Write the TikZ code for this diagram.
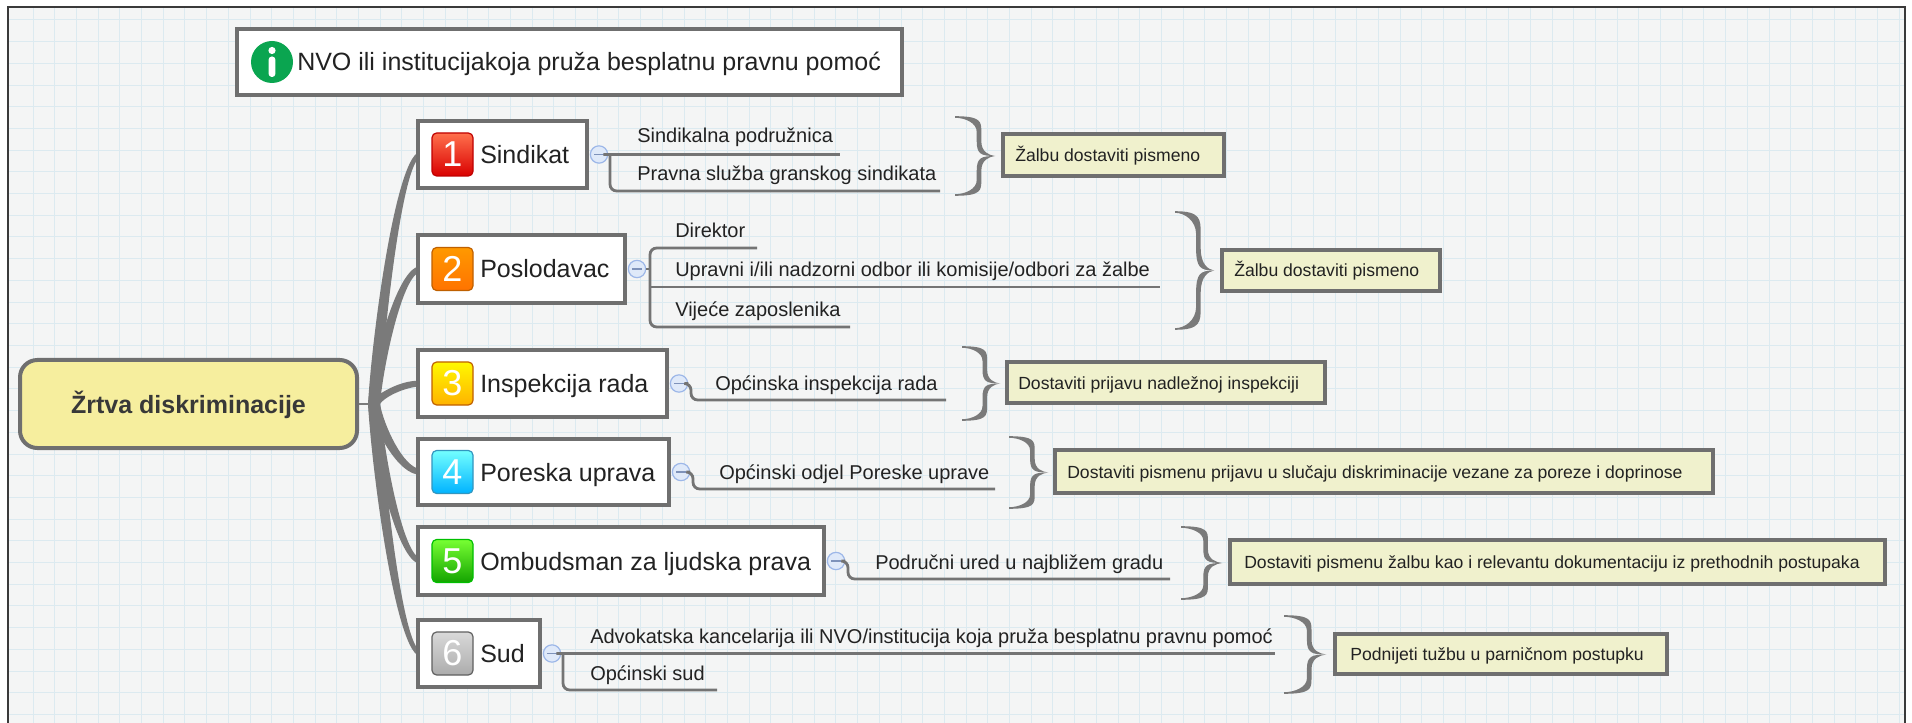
\documentclass[tikz,border=0pt]{standalone}
\usepackage{fontspec}
\setmainfont{Liberation Sans}
\definecolor{bgcol}{HTML}{F4F5F5}
\definecolor{gridcol}{HTML}{DCEAF0}
\definecolor{framecol}{HTML}{3A3A3A}
\definecolor{boxline}{HTML}{6F6F6F}
\definecolor{conncol}{HTML}{747474}
\definecolor{trunkcol}{HTML}{7A7A7A}
\definecolor{bracecol}{HTML}{7A7A7A}
\definecolor{notefill}{HTML}{F0F1CD}
\definecolor{rootfill}{HTML}{F6EE9E}
\definecolor{txtcol}{HTML}{222222}
\definecolor{circfill}{HTML}{DFE9F9}
\definecolor{circline}{HTML}{9DB7E8}
\definecolor{infogreen}{HTML}{0AA550}
\newcommand\fBig{\fontsize{18.75pt}{22pt}\selectfont}
\newcommand\fSub{\fontsize{15pt}{18pt}\selectfont}
\newcommand\fNote{\fontsize{13.2pt}{16pt}\selectfont}
\newcommand\fNum{\fontsize{27pt}{30pt}\selectfont}
\newcommand\cbrace[4]{%
 \pgfmathsetmacro\bL{#1}\pgfmathsetmacro\bR{#2}%
 \pgfmathsetmacro\bM{(#3+#4)/2}\pgfmathsetmacro\bH{(#4-#3)/2}%
 \pgfmathsetmacro\bW{#2-#1}\pgfmathsetmacro\bC{#1+0.6*(#2-#1)}%
 \foreach \sg in {1,-1}{%
  \fill[bracecol] (\bL,{\bM-(\sg)*(\bH+0.8)}) .. controls ({\bC+2.3},{\bM-(\sg)*(\bH+0.8)}) and ({\bC+2.3},{\bM-(\sg)*0.88*\bH}) .. ({\bC+2.3},{\bM-(\sg)*0.62*\bH}) -- ({\bC+2.3},{\bM-(\sg)*0.38*\bH}) .. controls ({\bC+2.3},{\bM-(\sg)*0.1*\bH}) and ({\bC+0.25*\bW},{\bM-(\sg)*0.02*\bH}) .. (\bR,\bM) .. controls ({\bC+0.05*\bW},\bM) and ({\bC-2.3},{\bM-(\sg)*0.05*\bH}) .. ({\bC-2.3},{\bM-(\sg)*0.38*\bH}) -- ({\bC-2.3},{\bM-(\sg)*0.62*\bH}) .. controls ({\bC-2.3},{\bM-(\sg)*0.85*\bH}) and ({\bL+0.25*\bW},{\bM-(\sg)*(\bH-0.8)}) .. (\bL,{\bM-(\sg)*(\bH-0.8)}) -- cycle;
 }}
% tapered branch from the junction (374,404) to a box at height #1
\newcommand\mbranch[1]{%
 \pgfmathsetmacro\yc{#1}\pgfmathsetmacro\u{ifthenelse(#1>404,1,-1)}%
 \pgfmathsetmacro\ya{404+0.3*(#1-404)}%
 \fill[trunkcol] (368,404) .. controls (372.5,\ya) and (397,{\yc+(\u)*3.8}) .. (421,{\yc+(\u)*2.8}) -- (421,{\yc-(\u)*2.8}) .. controls (403,{\yc-(\u)*3.8}) and (383.5,\ya) .. (380,404) -- cycle;}
\begin{document}
\begin{tikzpicture}[x=0.75pt,y=-0.75pt,
 sz/.style 2 args={minimum width=#1*0.75pt, minimum height=#2*0.75pt},
 wbox/.style={draw=boxline, fill=white, line width=3pt, inner sep=0pt},
 rootbox/.style={draw=boxline, fill=rootfill, line width=3pt, rounded corners=13pt, inner sep=0pt},
 nbox/.style={draw=boxline, fill=notefill, line width=2.6pt, inner sep=0pt},
 badge/.style={draw=#1!75!black, line width=0.9pt, rounded corners=3.5pt, inner sep=0pt, minimum width=30.75pt, minimum height=32.25pt, text=white, font=\fNum},
 lbl/.style={anchor=base west, inner sep=0pt, text=txtcol, font=\fBig},
 sub/.style={anchor=base west, inner sep=0pt, text=txtcol, font=\fSub},
 ntext/.style={anchor=base west, inner sep=0pt, text=txtcol, font=\fNote},
 conn/.style={draw=conncol, line width=2.1pt, rounded corners=5pt},
 knob/.style={circle, draw=circline, fill=circfill, line width=0.9pt, minimum size=13pt, inner sep=0pt},
]
\useasboundingbox (0,0) rectangle (1912,723);
\fill[white] (0,0) rectangle (1912,723);
\fill[bgcol] (8,7) rectangle (1905,723);
\begin{scope}
\clip (8,7) rectangle (1905,723);
\foreach \gx in {0,...,87} {\draw[gridcol, line width=0.75pt] ({33+21.7*\gx},7) -- ({33+21.7*\gx},723);}
\foreach \gy in {0,...,33} {\draw[gridcol, line width=0.75pt] (8,{20+21.7*\gy}) -- (1905,{20+21.7*\gy});}
\end{scope}
\draw[framecol, line width=1.6pt] (8,723) -- (8,7) -- (1905,7) -- (1905,723);

% trunk
\coordinate (junc) at (370,404);
\mbranch{154.5}\mbranch{269}\mbranch{383.5}\mbranch{472}\mbranch{561}\mbranch{653.5}

% root
\node[rootbox, sz={337}{88}] (root) at (188.5,404) {};
\node[anchor=base, inner sep=0pt, text=black!78, font=\fBig\bfseries] (roottxt) at (188.5,413) {Žrtva diskriminacije};
\draw[trunkcol, line width=2pt] (root.east) -- (junc);

% top info box
\node[wbox, sz={665}{66}] (top) at (569.5,62) {};
\node[circle, fill=infogreen, minimum size=31.5pt, inner sep=0pt] (icon) at (272,62) {};
\fill[white] (272,50.5) circle (3.6);
\fill[white, rounded corners=2.4pt] (268.6,56.5) rectangle (275.4,77);
\node[lbl] (toptxt) at (297,71) {NVO ili institucijakoja pruža besplatnu pravnu pomoć};

% branch boxes
\node[wbox, sz={169}{67}] (b1) at (502.5,154.5) {};
\node[wbox, sz={207}{68}] (b2) at (521.5,269) {};
\node[wbox, sz={249}{67}] (b3) at (542.5,383.5) {};
\node[wbox, sz={251}{66}] (b4) at (543.5,472) {};
\node[wbox, sz={406}{68}] (b5) at (621,561) {};
\node[wbox, sz={122}{67}] (b6) at (479,653.5) {};

\node[badge=red, top color=red!60!orange!70!white, bottom color=red!85!black] (g1) at (452.5,154.5) {1};
\node[badge=orange, top color=orange!80!yellow, bottom color=orange!90!red] (g2) at (452.5,269) {2};
\node[badge=orange, top color=yellow!95!orange, bottom color=orange!60!yellow] (g3) at (452.5,383.5) {3};
\node[badge=cyan, top color=cyan!55!white, bottom color=cyan!70!blue] (g4) at (452.5,472) {4};
\node[badge=green, top color=green!55!lime!80!white, bottom color=green!60!black!90!lime] (g5) at (452.5,561) {5};
\node[badge=gray, top color=gray!30, bottom color=gray!65] (g6) at (452.5,653.5) {6};

\node[lbl] (t1) at (480,163.5) {Sindikat};
\node[lbl] (t2) at (480,278) {Poslodavac};
\node[lbl] (t3) at (480,392.5) {Inspekcija rada};
\node[lbl] (t4) at (480,481) {Poreska uprava};
\node[lbl] (t5) at (480,570) {Ombudsman za ljudska prava};
\node[lbl] (t6) at (480,662.5) {Sud};

% knobs
\node[knob] (k1) at (599,154.5) {};
\node[knob] (k2) at (637,269) {};
\node[knob] (k3) at (679,383.5) {};
\node[knob] (k4) at (681,472) {};
\node[knob] (k5) at (836,561) {};
\node[knob] (k6) at (552,653.5) {};
\foreach \k in {k1,k2,k3,k4,k5,k6} {\draw[circline!80!black, line width=0.9pt] ([xshift=-3.5pt]\k.center) -- ([xshift=3.5pt]\k.center);}

% connectors to sub items
\coordinate (v1) at (610,154.5);
\coordinate (u1a) at (840,154.5);
\coordinate (u1b) at (940,191);
\draw[conn] (k1.east) -- (v1) -- (u1a);
\draw[conn] (v1) -- (610,191) -- (u1b);

\coordinate (v2) at (650,269);
\coordinate (u2a) at (757,248);
\coordinate (u2b) at (1160,287);
\coordinate (u2c) at (850,327);
\draw[conn] (k2.east) -- (v2);
\draw[conn] (u2a) -- (650,248) -- (650,327) -- (u2c);
\draw[conn] (650,287) -- (u2b);

\coordinate (u3) at (946,400);
\draw[conn] (k3.east) -- (691,383.5) -- (691,400) -- (u3);
\coordinate (u4) at (995,489);
\draw[conn] (k4.east) -- (693,472) -- (693,489) -- (u4);
\coordinate (u5) at (1170,579);
\draw[conn] (k5.east) -- (848,561) -- (848,579) -- (u5);

\coordinate (v6) at (563,653.5);
\coordinate (u6a) at (1275,653.5);
\coordinate (u6b) at (717,690);
\draw[conn] (k6.east) -- (v6) -- (u6a);
\draw[conn] (v6) -- (563,690) -- (u6b);

% sub item texts
\node[sub] (s1a) at (637,143) {Sindikalna podružnica};
\node[sub] (s1b) at (637,181) {Pravna služba granskog sindikata};
\node[sub] (s2a) at (675,238) {Direktor};
\node[sub] (s2b) at (675,277) {Upravni i/ili nadzorni odbor ili komisije/odbori za žalbe};
\node[sub] (s2c) at (675,317) {Vijeće zaposlenika};
\node[sub] (s3) at (715,390) {Općinska inspekcija rada};
\node[sub] (s4) at (719,479) {Općinski odjel Poreske uprave};
\node[sub] (s5) at (875,569) {Područni ured u najbližem gradu};
\node[sub] (s6a) at (590,643) {Advokatska kancelarija ili NVO/institucija koja pruža besplatnu pravnu pomoć};
\node[sub] (s6b) at (590,680) {Općinski sud};

% braces
\cbrace{955}{995}{117}{195}
\cbrace{1175}{1214}{212}{329}
\cbrace{962}{1000}{347}{420}
\cbrace{1009}{1048}{437}{508}
\cbrace{1181}{1222}{527}{599}
\cbrace{1284}{1326}{616}{693}

% note boxes
\node[nbox, sz={221}{42}] (n1) at (1113.5,155) {};
\node[nbox, sz={218}{41}] (n2) at (1331,270.5) {};
\node[nbox, sz={318}{41}] (n3) at (1166,382.5) {};
\node[nbox, sz={658}{43}] (n4) at (1384,471.5) {};
\node[nbox, sz={655}{44}] (n5) at (1557.5,562) {};
\node[nbox, sz={332}{40}] (n6) at (1501,654) {};

\node[ntext] (m1) at (1015,161.5) {Žalbu dostaviti pismeno};
\node[ntext] (m2) at (1234,277) {Žalbu dostaviti pismeno};
\node[ntext] (m3) at (1018,389) {Dostaviti prijavu nadležnoj inspekciji};
\node[ntext] (m4) at (1067,478) {Dostaviti pismenu prijavu u slučaju diskriminacije vezane za poreze i doprinose};
\node[ntext] (m5) at (1244,568.5) {Dostaviti pismenu žalbu kao i relevantu dokumentaciju iz prethodnih postupaka};
\node[ntext] (m6) at (1350,660.5) {Podnijeti tužbu u parničnom postupku};
\end{tikzpicture}
\end{document}
